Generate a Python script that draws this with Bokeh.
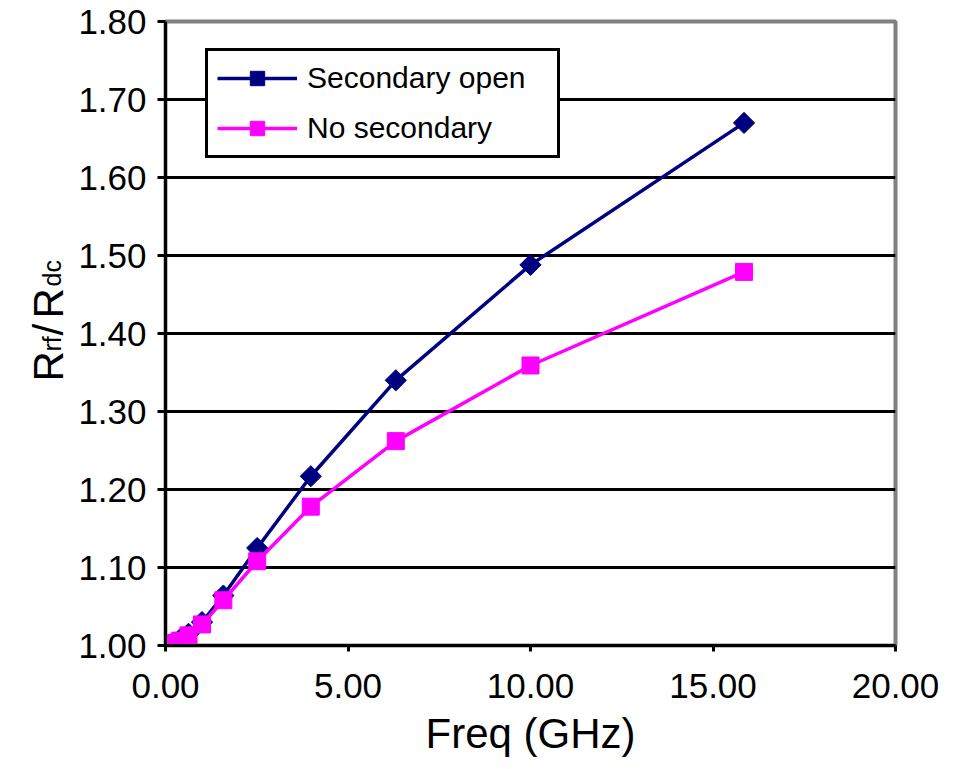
import math
from bokeh.plotting import figure
from bokeh.layouts import row
from bokeh.models import (FixedTicker, PrintfTickFormatter, Range1d, Label, Legend, LegendItem)
from bokeh.embed import file_html
from bokeh.resources import INLINE

# ---- data ----
freq_ghz = [0.1, 0.158, 0.251, 0.398, 0.631, 1.0, 1.585, 2.512, 3.981, 6.31, 10.0, 15.85]
secondary_open = [1.001, 1.002, 1.004, 1.008, 1.015, 1.030, 1.064, 1.125, 1.217, 1.340, 1.488, 1.670]
no_secondary = [1.000, 1.001, 1.003, 1.006, 1.013, 1.027, 1.058, 1.108, 1.178, 1.262, 1.359, 1.479]
x_ticks = [0, 5, 10, 15, 20]
y_ticks = [1.0, 1.1, 1.2, 1.3, 1.4, 1.5, 1.6, 1.7, 1.8]
series_names = ["Secondary open", "No secondary"]
y_title_parts = [("R", "42px"), ("rf", "25px"), ("/", "42px"), ("R", "42px"), ("dc", "25px")]

FONT = "Liberation Sans"
NAVY = "#000080"
MAGENTA = "#FF00FF"

H = 764
FRAME_BOTTOM = 645   # page y of the plot frame's bottom edge
LW = 75              # width of the strip that holds the y-axis title
W = 950 - LW

p = figure(width=W, height=H, output_backend="svg", toolbar_location=None,
           x_range=Range1d(0, 20), y_range=Range1d(1.0, 1.8),
           min_border_left=163 - LW, min_border_right=950 - 895, min_border_top=21,
           min_border_bottom=H - FRAME_BOTTOM)
p.background_fill_color = "white"
p.border_fill_color = "white"
p.outline_line_color = "#808080"
p.outline_line_width = 4

# grids
p.xgrid.visible = False
p.ygrid.ticker = FixedTicker(ticks=y_ticks[1:-1])
p.ygrid.grid_line_color = "black"
p.ygrid.grid_line_width = 3

# axes
for ax in (p.xaxis[0], p.yaxis[0]):
    ax.axis_line_color = "black"
    ax.axis_line_width = 3
    ax.major_tick_line_color = "black"
    ax.major_tick_line_width = 3
    ax.major_tick_in = 0
    ax.minor_tick_line_color = None
    ax.major_label_text_font = FONT
    ax.major_label_text_font_size = "35px"
    ax.major_label_text_color = "black"
    ax.formatter = PrintfTickFormatter(format="%.2f")

p.xaxis.ticker = FixedTicker(ticks=x_ticks)
p.xaxis.major_tick_out = 6
p.xaxis.major_label_standoff = 22
p.xaxis.axis_label = "Freq (GHz)"
p.xaxis.axis_label_text_font = FONT
p.xaxis.axis_label_text_font_size = "42px"
p.xaxis.axis_label_text_font_style = "normal"
p.xaxis.axis_label_text_color = "black"
p.xaxis.axis_label_standoff = 9

p.yaxis.ticker = FixedTicker(ticks=y_ticks)
p.yaxis.major_tick_out = 8
p.yaxis.major_label_standoff = 11

# series
l1 = p.line(freq_ghz, secondary_open, line_color=NAVY, line_width=3.5)
m1 = p.scatter(freq_ghz, secondary_open, marker="square", angle=math.pi / 4, size=15,
               fill_color=NAVY, line_color=NAVY, line_width=1)
l2 = p.line(freq_ghz, no_secondary, line_color=MAGENTA, line_width=3.5)
m2 = p.scatter(freq_ghz, no_secondary, marker="square", size=17,
               fill_color=MAGENTA, line_color=MAGENTA, line_width=1)

legend = Legend(items=[LegendItem(label=series_names[0], renderers=[l1, m1]),
                       LegendItem(label=series_names[1], renderers=[l2, m2])],
                location=(40, 487))
legend.label_text_font = FONT
legend.label_text_font_size = "30px"
legend.label_text_color = "black"
legend.glyph_width = 80
legend.glyph_height = 36
legend.label_height = 36
legend.label_width = 241
legend.label_standoff = 10
legend.spacing = 14
legend.padding = 9
legend.margin = 0
legend.border_line_color = "black"
legend.border_line_alpha = 1.0
legend.border_line_width = 3
legend.background_fill_color = "white"
legend.background_fill_alpha = 1.0
p.add_layout(legend, "center")

# ---- narrow strip with the rotated y-axis title R_rf / R_dc ----
# (its frame is aligned with the main plot's frame by the row layout)
t = figure(width=LW, height=H, output_backend="svg", toolbar_location=None,
           x_axis_location=None, y_axis_location=None,
           min_border=0, x_range=Range1d(0, LW), y_range=Range1d(0, H))
t.outline_line_color = None
t.grid.visible = False
t.background_fill_color = "white"
t.border_fill_color = "white"

starts = [381, 351, 335, 318, 286]     # page y where each piece starts (reads upward)
bases = [48, 51, 48, 48, 51]           # page x of each piece's baseline
for (txt, fs), py, px in zip(y_title_parts, starts, bases):
    t.add_layout(Label(x=px, y=FRAME_BOTTOM - py, x_units="screen", y_units="screen",
                       text=txt, angle=math.pi / 2,
                       text_font=FONT, text_font_size=fs, text_color="black",
                       text_align="left", text_baseline="alphabetic"))

layout = row(t, p, spacing=0)
open("out.html", "w").write(file_html(layout, INLINE))
